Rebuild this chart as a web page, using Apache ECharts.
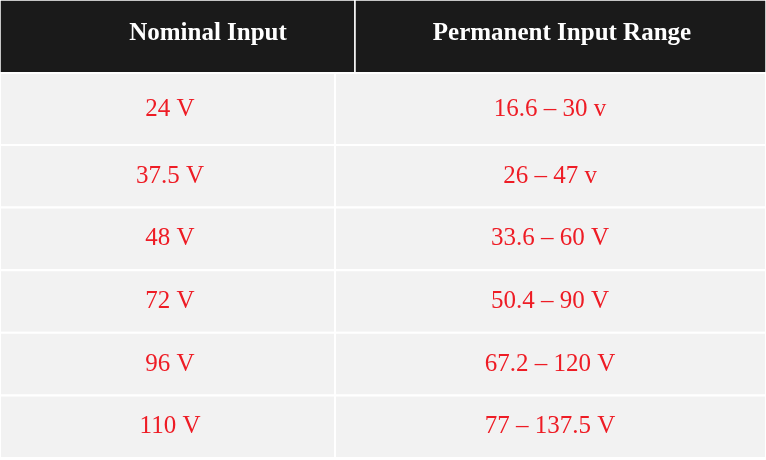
<!DOCTYPE html>
<html>
<head>
<meta charset="utf-8">
<script src="https://cdn.jsdelivr.net/npm/echarts@6/dist/echarts.min.js"></script>
<style>html,body{margin:0;padding:0;background:#fff}#main{width:766px;height:460px}</style>
</head>
<body>
<div id="main"></div>
<script>
var headers = ['Nominal Input', 'Permanent Input Range'];
var nominal = ['24 V', '37.5 V', '48 V', '72 V', '96 V', '110 V'];
var ranges = ['16.6 – 30 v', '26 – 47 v', '33.6 – 60 V', '50.4 – 90 V', '67.2 – 120 V', '77 – 137.5 V'];

var chart = echarts.init(document.getElementById('main'));
var rows = ['h'].concat(nominal.map(function (n, i) { return 'r' + i; }));
var data = [];
headers.forEach(function (h, c) { data.push([c, 0, h]); });
nominal.forEach(function (n, i) {
    data.push([0, i + 1, n]);
    data.push([1, i + 1, ranges[i]]);
});

var headH = 73, firstH = 72;
var split = 335, headSplit = 355;

chart.setOption({
    animation: false,
    grid: {left: 0, right: 0, top: 0, bottom: 2},
    xAxis: {type: 'category', data: [0, 1], show: false},
    yAxis: {type: 'category', data: rows, inverse: true, show: false},
    series: [{
        type: 'custom',
        data: data,
        renderItem: function (params, api) {
            var cs = params.coordSys;
            var c = api.value(0), r = api.value(1);
            var bodyH = (cs.height - headH - firstH) / (nominal.length - 1);
            var y0, h, x0, w, div;
            if (r === 0) { y0 = cs.y; h = headH; div = headSplit; }
            else if (r === 1) { y0 = cs.y + headH; h = firstH; div = split; }
            else { y0 = cs.y + headH + firstH + (r - 2) * bodyH; h = bodyH; div = split; }
            if (c === 0) { x0 = cs.x; w = div; } else { x0 = cs.x + div; w = cs.width - div; }
            var header = r === 0;
            var cx = header ? (c === 0 ? 208 : 562) : (c === 0 ? 170 : 550);
            return {
                type: 'group',
                children: [{
                    type: 'rect',
                    shape: {x: x0, y: y0, width: w, height: h},
                    style: {fill: header ? '#1a1a1a' : '#f2f2f2', stroke: '#ffffff', lineWidth: header ? 1.5 : 2}
                }, {
                    type: 'text',
                    style: {
                        x: cx, y: y0 + h / 2 + (header ? -3 : 0),
                        text: api.value(2),
                        fill: header ? '#ffffff' : '#ee1c25',
                        fontFamily: 'Liberation Serif',
                        fontSize: 25,
                        fontWeight: header ? 'bold' : 'normal',
                        align: 'center', verticalAlign: 'middle'
                    }
                }]
            };
        }
    }]
});
</script>
</body>
</html>
